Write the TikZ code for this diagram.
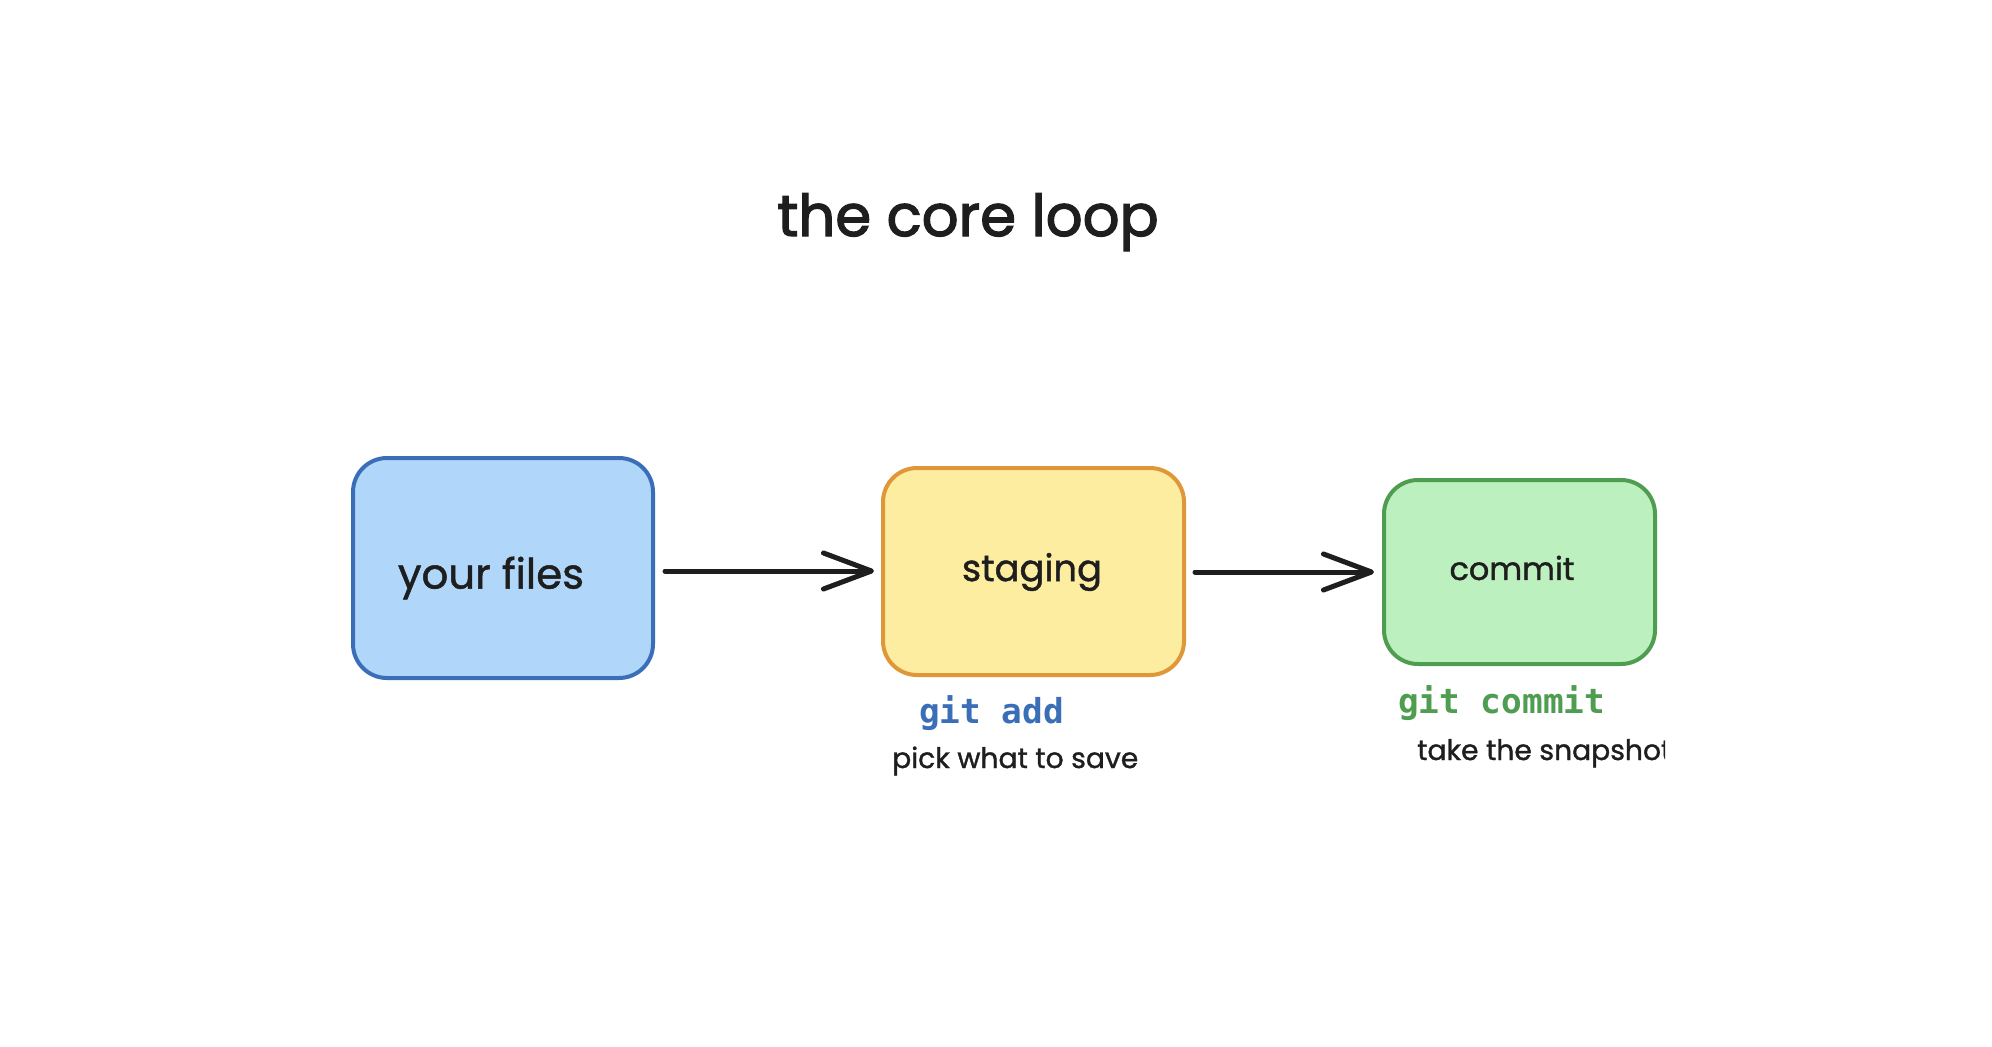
\documentclass[tikz,border=0pt]{standalone}
\usepackage{fontspec}
\setmainfont{Poppins}
\newfontfamily\handfont[FakeBold=1.2]{Poppins}
\newfontfamily\titlehand[FakeBold=2.2]{Poppins}
\newfontfamily\codefont{DejaVu Sans Mono}
\usetikzlibrary{arrows.meta}
\definecolor{bluefill}{HTML}{B0D6FA}
\definecolor{bluestroke}{HTML}{3A6FB8}
\definecolor{yelfill}{HTML}{FDEDA0}
\definecolor{yelstroke}{HTML}{E0973A}
\definecolor{grnfill}{HTML}{BDF0BF}
\definecolor{grnstroke}{HTML}{4F9D50}
\definecolor{ink}{HTML}{1E1E1E}
\tikzset{
  boxnode/.style={rectangle, rounded corners=34bp, line width=4bp, inner sep=0pt},
  boxtext/.style={font=\handfont\fontsize{#1}{44}\selectfont, text=ink, inner sep=0pt},
  boxtext/.default=38,
  flowarrow/.style={line width=5bp, draw=ink, line cap=round,
    -{Straight Barb[length=48bp, width=36bp, line width=5bp, round]}},
  codelabel/.style={font=\codefont\bfseries\fontsize{34.5}{40}\selectfont, inner sep=0pt},
  notelabel/.style={font=\handfont\fontsize{28.3}{32}\selectfont, text=ink, inner sep=0pt},
  titlelabel/.style={font=\titlehand\fontsize{58}{66}\selectfont, text=ink, inner sep=0pt}
}
\begin{document}
\begin{tikzpicture}[x=1bp,y=-1bp]
\useasboundingbox (0,0) rectangle (1992,1046);
\fill[white] (0,0) rectangle (1992,1046);

\node[titlelabel, anchor=base] (title) at (968,236) {the core loop};

\node[boxnode, fill=bluefill, draw=bluestroke, minimum width=300bp, minimum height=220bp]
  (files) at (503,568) {};
\node[boxtext=42] (filestext) at (491,578) {your files};
\node[boxnode, fill=yelfill, draw=yelstroke, minimum width=301bp, minimum height=207bp]
  (staging) at (1033.5,571.5) {};
\node[boxtext=37] (stagingtext) at (1032,572) {staging};
\node[boxnode, fill=grnfill, draw=grnstroke, minimum width=271bp, minimum height=184bp]
  (commit) at (1519.5,572) {};
\node[boxtext=32] (committext) at (1512,568) {commit};

\draw[flowarrow, shorten <=10bp, shorten >=7bp] (files.east |- 0,571) -- (staging.west |- 0,571);
\draw[flowarrow, shorten <=9bp, shorten >=8bp] (staging.east |- 0,572) -- (commit.west |- 0,572);

\node[codelabel, text=bluestroke, anchor=base west] (gitadd) at (919,723) {git add};
\node[notelabel, anchor=base west] (pick) at (892,768) {pick what to save};

\node[codelabel, text=grnstroke, anchor=base west] (gitcommit) at (1398,713) {git commit};
\begin{scope}
  \clip (1300,700) rectangle (1665,800);
  \node[notelabel, anchor=base west] (snap) at (1417,760) {take the snapshot};
\end{scope}
\end{tikzpicture}
\end{document}
